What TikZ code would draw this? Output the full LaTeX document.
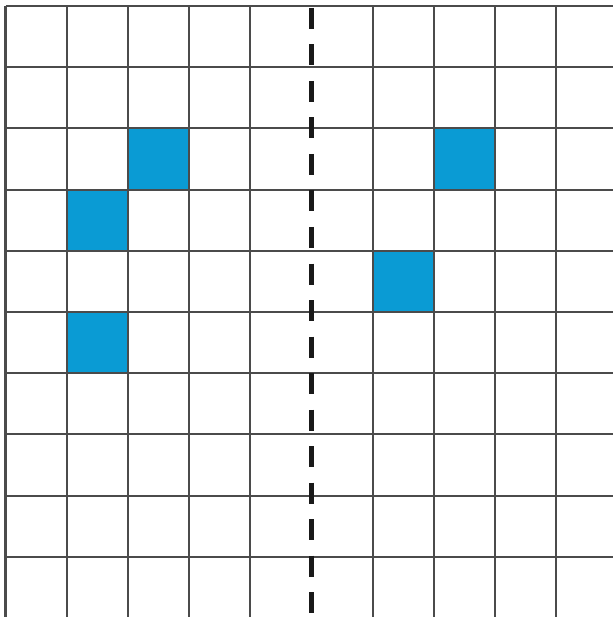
\documentclass[tikz,border=0pt]{standalone}
\definecolor{cellblue}{RGB}{10,155,212}
\definecolor{gridgray}{RGB}{75,75,75}
\begin{document}
\begin{tikzpicture}[x=1pt,y=-1pt,
  gridline/.style={draw=gridgray,line width=2.1pt},
  filled/.style={fill=cellblue,draw=gridgray,line width=2.1pt},
  midline/.style={draw=black!90,line width=4.4pt,dash pattern=on 21pt off 15.5pt}]
\useasboundingbox (0,0) rectangle (612,617);
\fill[white] (0,0) rectangle (612,617);
\def\cs{61.2}
\def\ox{5.5}
\def\oy{6}
% blue cells (col,row)
\foreach \c/\r in {2/2,1/3,1/5,7/2,6/4}{
  \path[filled] ({\ox+\c*\cs},{\oy+\r*\cs}) rectangle ({\ox+(\c+1)*\cs},{\oy+(\r+1)*\cs});
}
% horizontal lines
\foreach \k in {0,...,10}{
  \draw[gridline] (\ox,{\oy+\k*\cs}) -- (620,{\oy+\k*\cs});
}
% vertical lines (except the middle one)
\foreach \k in {0,1,2,3,4,6,7,8,9,10}{
  \draw[gridline] ({\ox+\k*\cs},\oy) -- ({\ox+\k*\cs},620);
}
% dashed middle line
\draw[midline] ({\ox+5*\cs},8) -- ({\ox+5*\cs},625);
\end{tikzpicture}
\end{document}
